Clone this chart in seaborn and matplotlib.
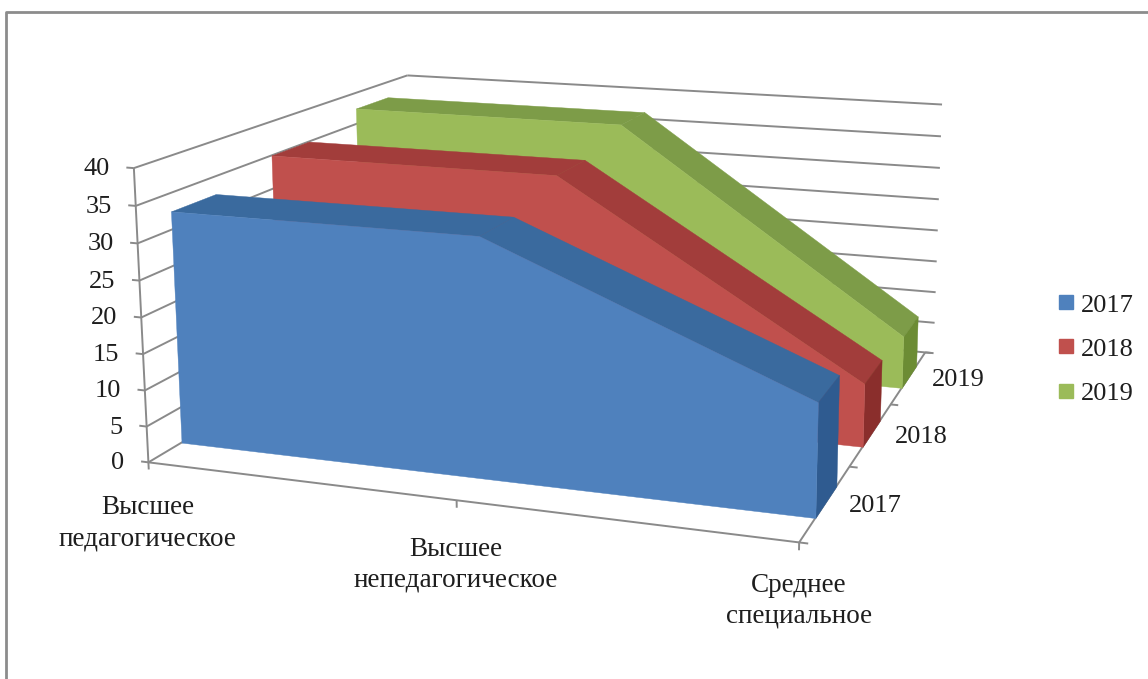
import numpy as np
import matplotlib
matplotlib.use("Agg")
import matplotlib.pyplot as plt
from matplotlib.lines import Line2D
from mpl_toolkits.mplot3d.art3d import Poly3DCollection, Line3DCollection
import seaborn as sns

# ---- data ----
categories = ["Высшее\nпедагогическое", "Высшее\nнепедагогическое", "Среднее\nспециальное"]
years = ["2017", "2018", "2019"]
values_2017 = [32.5, 32.5, 15]
values_2018 = [35, 35, 9]
values_2019 = [37.5, 37.5, 8]
value_ticks = [0, 5, 10, 15, 20, 25, 30, 35, 40]

front_colors = ["#4F81BD", "#C0504D", "#9BBB59"]
top_colors = ["#3A6A9E", "#A23D3B", "#7D9C48"]
side_colors = ["#2F5B90", "#8A2E2C", "#6C8C34"]
line_color = "#8A8A8A"
text_color = "#1E1E1E"

W, H = 1148, 679
sns.set_theme(style="white", font="Liberation Serif")
fig = plt.figure(figsize=(W / 100, H / 100), dpi=100, facecolor="white")
ax = fig.add_axes([0, 0, 1, 1], projection="3d", facecolor="none")
ax.computed_zorder = False
ax.set_axis_off()
ax.apply_aspect = lambda position=None, **kw: None

# ---- camera: calibrated from where the box corners sit on the canvas ----
calibration = [
    ((0, 0, 0), (148, 460)), ((0, 0, 40), (133.5, 170)),
    ((2, 0, 0), (800, 543)), ((0, 3, 40), (408, 74)),
    ((2, 3, 40), (933, 104)), ((2, 3, 0), (925, 352)),
    ((0, 3, 0), (412, 307)),
]
rows = []
for (X, Y, Z), (u, v) in calibration:
    v = H - v
    rows.append([X, Y, Z, 1, 0, 0, 0, 0, -u * X, -u * Y, -u * Z, -u])
    rows.append([0, 0, 0, 0, X, Y, Z, 1, -v * X, -v * Y, -v * Z, -v])
P = np.linalg.svd(np.array(rows, float))[2][-1].reshape(3, 4)
x0, x1 = ax.viewLim.intervalx
y0, y1 = ax.viewLim.intervaly
S = np.array([[(x1 - x0) / W, 0, x0], [0, (y1 - y0) / H, y0], [0, 0, 1]])
Pv = S @ P
depth_row = np.linalg.svd(Pv)[2][-1]
M = np.vstack([Pv[0], Pv[1], depth_row, Pv[2]])
ax.get_proj = lambda: M
ax.M = M


def to_fig(X, Y, Z):
    p = P @ np.array([X, Y, Z, 1.0])
    return p[0] / p[2], p[1] / p[2]


def label(X, Y, Z, dx, dy, s, **kw):
    u, v = to_fig(X, Y, Z)
    fig.text((u + dx) / W, (v - dy) / H, s, color=text_color, **kw)


# ---- walls and axes ----
segments = []
for z in value_ticks:
    segments.append([(-0.025, 0, z), (0, 0, z)])
    segments.append([(0, 0, z), (0, 3, z)])
    segments.append([(0, 3, z), (2.03, 3, z)])
segments.append([(0, 0, 0), (0, 0, 40)])
segments.append([(0, 0, 0), (2, 0, 0)])
segments.append([(2, 0, 0), (2, 3, 0)])
for i in range(3):
    segments.append([(i, 0, -1.0), (i, 0, 0)])
for d in range(4):
    segments.append([(2, d, 0), (2.025, d, 0)])
ax.add_collection3d(Line3DCollection(segments, colors=line_color, linewidths=1.4, zorder=1))

# ---- series, back to front ----
front_gap, back_gap = 0.30, 0.72
series = [values_2017, values_2018, values_2019]
for i in range(2, -1, -1):
    vals = series[i]
    yf, yb = i + front_gap, i + back_gap
    z = 10 + 10 * (2 - i)
    xs = range(len(vals))
    for a in range(len(vals) - 1):
        quad = [(a, yf, vals[a]), (a + 1, yf, vals[a + 1]),
                (a + 1, yb, vals[a + 1]), (a, yb, vals[a])]
        ax.add_collection3d(Poly3DCollection([quad], facecolor=top_colors[i], edgecolor=top_colors[i],
                                             linewidth=0.3, zorder=z))
    side = [(2, yf, 0), (2, yb, 0), (2, yb, vals[-1]), (2, yf, vals[-1])]
    ax.add_collection3d(Poly3DCollection([side], facecolor=side_colors[i], edgecolor=side_colors[i],
                                         linewidth=0.3, zorder=z + 1))
    face = [(k, yf, vals[k]) for k in xs] + [(2, yf, 0), (0, yf, 0)]
    ax.add_collection3d(Poly3DCollection([face], facecolor=front_colors[i], edgecolor=front_colors[i],
                                         linewidth=0.3, zorder=z + 2))

# ---- labels ----
for z in value_ticks:
    label(0, 0, z, -24, 1, str(z), ha="right", va="center", fontsize=19)
cat_offsets = [(-1, 61), (-1, 64.5), (0, 58)]
for k, name in enumerate(categories):
    dx, dy = cat_offsets[k]
    label(k, 0, 0, dx, dy, name, ha="center", va="center", fontsize=19.5, linespacing=1.3)
for k, name in enumerate(years):
    label(2, k + 0.5, 0, 50, 3, name, ha="center", va="center", fontsize=19)

# ---- legend ----
handles = [Line2D([], [], linestyle="none", marker="s", markersize=9.4, color=c, label=y)
           for c, y in zip(front_colors, years)]
fig.legend(handles=handles, loc="center left", bbox_to_anchor=(1029.5 / W, 1 - 349 / H), frameon=False,
           fontsize=19, labelspacing=0.78, handlelength=1, handletextpad=0.05, labelcolor=text_color)

# ---- outer frame ----
fig.add_artist(Line2D([6 / W, 6 / W, 1], [0, 1 - 12 / H, 1 - 12 / H], color="#8C8C8C", lw=2))

fig.savefig("out.png", dpi=100)
